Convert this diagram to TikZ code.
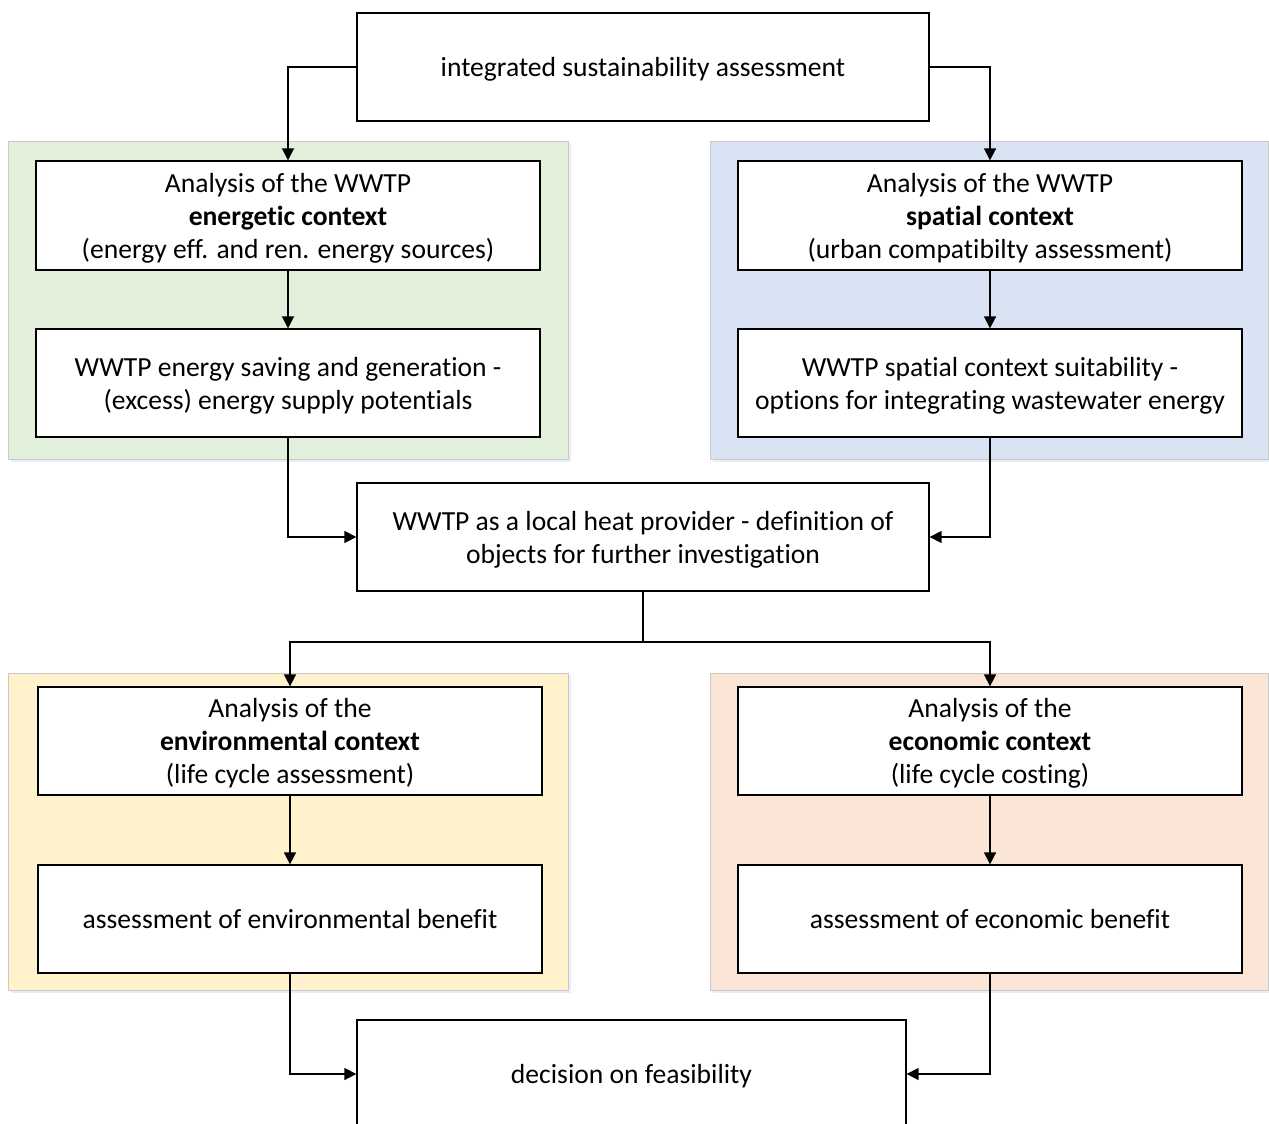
\documentclass[tikz,border=0pt]{standalone}
\usepackage{fontspec}
\setmainfont{Carlito}[Ligatures=NoCommon]
\usetikzlibrary{arrows.meta}
\definecolor{pgreen}{HTML}{E2EFDA}
\definecolor{pblue}{HTML}{DAE3F3}
\definecolor{pyellow}{HTML}{FFF2CC}
\definecolor{porange}{HTML}{FBE5D6}
\definecolor{pborder}{HTML}{C9C9C9}
\definecolor{shadowc}{HTML}{D5DCE6}
\tikzset{
  panel/.style={draw=pborder, line width=1pt},
  box/.style={draw=black, line width=1.3pt, fill=white, align=center, inner sep=0pt,
    minimum width=504pt, minimum height=108pt, text depth=0pt,
    font=\fontsize{27.6}{33}\selectfont},
  widebox/.style={box, minimum width=572pt},
  arr/.style={line width=1.6pt, -{Triangle[length=12pt,width=12pt]}},
  ln/.style={line width=1.6pt},
}
\begin{document}
\begin{tikzpicture}[x=1pt,y=-1pt]
\useasboundingbox (0,0) rectangle (1269,1124);
\clip (0,0) rectangle (1269,1124);
\fill[white] (0,0) rectangle (1269,1124);
% panels
\fill[shadowc!50] (11,144) rectangle (571,462);
\draw[panel, fill=pgreen] (8,141) rectangle (568,459);
\fill[shadowc!50] (713,144) rectangle (1272,462);
\draw[panel, fill=pblue] (710,141) rectangle (1268,459);
\fill[shadowc!50] (11,676) rectangle (571,993);
\draw[panel, fill=pyellow] (8,673) rectangle (568,990);
\fill[shadowc!50] (713,676) rectangle (1272,993);
\draw[panel, fill=porange] (710,673) rectangle (1268,990);
% nodes
\node[widebox] (top) at (643,67) {integrated sustainability assessment};
\node[box, minimum height=109pt] (en) at (288,215.5) {Analysis of the WWTP\\\textbf{energetic context}\\(energy eff. and ren. energy sources)};
\node[box] (es) at (288,383) {WWTP energy saving and generation -\\(excess) energy supply potentials};
\node[box, minimum height=109pt] (sp) at (990,215.5) {Analysis of the WWTP\\\textbf{spatial context}\\(urban compatibilty assessment)};
\node[box] (ss) at (990,383) {WWTP spatial context suitability -\\options for integrating wastewater energy};
\node[widebox] (heat) at (643,537) {WWTP as a local heat provider - definition of\\objects for further investigation};
\node[box] (env) at (290,741) {Analysis of the\\\textbf{environmental context}\\(life cycle assessment)};
\node[box] (envb) at (290,919) {assessment of environmental benefit};
\node[box] (eco) at (990,741) {Analysis of the\\\textbf{economic context}\\(life cycle costing)};
\node[box] (ecob) at (990,919) {assessment of economic benefit};
\node[box, minimum width=549pt] (dec) at (631.5,1074) {decision on feasibility};
\coordinate (split) at (643,642);
% connectors
\draw[arr] (top.west) -| (en.north);
\draw[arr] (top.east) -| (sp.north);
\draw[arr] (en.south) -- (es.north);
\draw[arr] (sp.south) -- (ss.north);
\draw[arr] (es.south) |- (heat.west);
\draw[arr] (ss.south) |- (heat.east);
\draw[ln] (heat.south) -- (split);
\draw[arr] (split) -| (env.north);
\draw[arr] (split) -| (eco.north);
\draw[arr] (env.south) -- (envb.north);
\draw[arr] (eco.south) -- (ecob.north);
\draw[arr] (envb.south) |- (dec.west);
\draw[arr] (ecob.south) |- (dec.east);
\end{tikzpicture}
\end{document}
